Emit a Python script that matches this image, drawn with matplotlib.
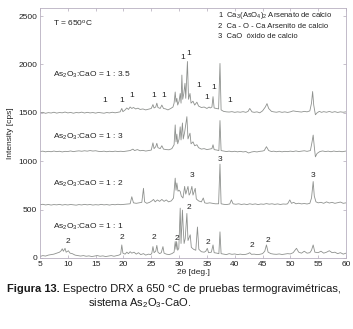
import matplotlib
matplotlib.use("Agg")
import matplotlib.pyplot as plt

plt.rcParams['font.family'] = ['Liberation Sans', 'DejaVu Sans']
plt.rcParams['mathtext.default'] = 'regular'

# (2theta, intensity); intensity includes the stacking offset
s35 = [(5, 1500), (5.5, 1505), (6, 1495), (6.5, 1502), (7, 1498), (7.5, 1506), (8, 1497),
       (8.5, 1503), (9, 1500), (9.5, 1508), (10, 1499), (10.5, 1504), (11, 1496), (11.5, 1503),
       (12, 1500), (12.5, 1507), (13, 1498), (13.5, 1505), (14, 1499), (14.5, 1503), (15, 1497),
       (15.5, 1504), (16, 1500), (16.5, 1496), (17, 1503), (17.5, 1499), (18, 1506), (18.5, 1500),
       (19, 1505), (19.4, 1510), (19.7, 1545), (19.9, 1512), (20.3, 1530), (20.6, 1550),
       (20.9, 1535), (21.2, 1560), (21.5, 1545), (21.8, 1555), (22.2, 1540), (22.6, 1548),
       (23, 1535), (23.5, 1540), (24, 1530), (24.5, 1538), (25, 1545), (25.3, 1585), (25.5, 1550),
       (25.8, 1560), (26.0, 1600), (26.2, 1555), (26.6, 1545), (26.9, 1580), (27.2, 1545),
       (27.6, 1540), (28, 1530), (28.5, 1545), (28.9, 1560), (29.1, 1600), (29.3, 1715),
       (29.45, 1610), (29.6, 1650), (29.75, 1580), (30.0, 1620), (30.2, 1700), (30.35, 1600),
       (30.5, 1890), (30.65, 1640), (30.85, 1700), (31.06, 1805), (31.2, 1650), (31.5, 2030),
       (31.7, 1640), (31.96, 1700), (32.15, 1600), (32.5, 1620), (32.8, 1580), (33.2, 1610),
       (33.5, 1570), (34, 1555), (34.5, 1560), (35, 1545), (35.4, 1560), (35.6, 1550), (35.9, 1560),
       (36.1, 1667), (36.3, 1550), (36.7, 1545), (37.1, 1540), (37.35, 2010), (37.55, 1530),
       (38, 1515), (38.5, 1510), (39, 1508), (39.5, 1512), (40, 1505), (40.5, 1510), (41, 1506),
       (41.5, 1512), (42, 1505), (42.4, 1515), (42.7, 1545), (43.1, 1510), (43.5, 1505), (44, 1510),
       (44.5, 1500), (45, 1520), (45.5, 1560), (45.8, 1595), (46.1, 1545), (46.6, 1515), (47, 1510),
       (47.5, 1506), (48, 1512), (48.5, 1505), (49, 1510), (49.5, 1504), (50, 1510), (50.5, 1520),
       (51, 1515), (51.5, 1512), (52, 1508), (52.5, 1515), (53, 1510), (53.5, 1520), (53.8, 1600),
       (54.0, 1720), (54.2, 1580), (54.5, 1480), (54.8, 1500), (55.2, 1515), (55.6, 1505),
       (56, 1512), (56.5, 1506), (57, 1514), (57.5, 1505), (58, 1512), (58.5, 1504), (59, 1510),
       (59.5, 1506), (60, 1510)]

s3 = [(5, 1100), (5.5, 1104), (6, 1097), (6.5, 1102), (7, 1098), (7.5, 1105), (8, 1099),
      (8.5, 1103), (9, 1096), (9.5, 1102), (10, 1100), (10.5, 1106), (11, 1099), (11.5, 1104),
      (12, 1107), (12.5, 1103), (13, 1108), (13.5, 1104), (14, 1110), (14.5, 1105), (15, 1108),
      (15.5, 1102), (16, 1100), (16.5, 1104), (17, 1098), (17.5, 1103), (18, 1099), (18.5, 1104),
      (19, 1100), (19.5, 1103), (20, 1100), (20.6, 1105), (21.2, 1110), (21.7, 1125), (22, 1110),
      (22.5, 1120), (23, 1108), (23.5, 1112), (24, 1105), (24.5, 1110), (25, 1115), (25.3, 1190),
      (25.5, 1130), (25.8, 1150), (26.0, 1185), (26.2, 1140), (26.6, 1130), (26.9, 1160),
      (27.2, 1125), (27.7, 1120), (28.2, 1118), (28.7, 1130), (29.1, 1170), (29.3, 1375),
      (29.45, 1200), (29.6, 1280), (29.75, 1180), (30.0, 1230), (30.2, 1355), (30.35, 1220),
      (30.6, 1395), (30.75, 1230), (31.0, 1300), (31.4, 1460), (31.6, 1230), (31.96, 1290),
      (32.15, 1180), (32.5, 1200), (32.8, 1160), (33.2, 1170), (33.5, 1140), (34, 1125),
      (34.5, 1130), (35, 1120), (35.5, 1125), (35.9, 1130), (36.1, 1170), (36.3, 1120),
      (36.8, 1115), (37.15, 1110), (37.35, 1420), (37.55, 1110), (38, 1105), (38.5, 1100),
      (39, 1104), (39.5, 1098), (40, 1103), (40.5, 1097), (41, 1102), (41.5, 1096), (42, 1100),
      (42.5, 1085), (43, 1095), (43.5, 1100), (44, 1096), (44.5, 1102), (45, 1105), (45.3, 1110),
      (45.7, 1150), (46.1, 1110), (46.6, 1100), (47, 1104), (47.5, 1098), (48, 1103), (48.5, 1097),
      (49, 1102), (49.5, 1099), (50, 1104), (50.5, 1100), (51, 1106), (51.5, 1100), (52, 1104),
      (52.5, 1108), (53, 1102), (53.6, 1110), (53.9, 1200), (54.1, 1270), (54.3, 1150),
      (54.5, 1045), (54.8, 1080), (55.3, 1100), (55.8, 1106), (56.3, 1100), (56.8, 1104),
      (57.3, 1098), (57.8, 1105), (58.3, 1100), (58.8, 1103), (59.3, 1098), (59.7, 1102), (60, 1105)]

s2 = [(5, 550), (5.5, 555), (6, 548), (6.5, 553), (7, 547), (7.5, 552), (8, 549), (8.5, 554),
      (9, 547), (9.5, 552), (10, 548), (10.5, 553), (11, 550), (11.5, 546), (12, 552), (12.5, 548),
      (13, 554), (13.5, 549), (14, 553), (14.5, 547), (15, 551), (15.5, 548), (16, 554), (16.5, 549),
      (17, 552), (17.5, 547), (18, 553), (18.5, 550), (19, 555), (19.5, 551), (20, 554), (20.6, 557),
      (21.2, 560), (21.5, 633), (21.8, 570), (22.3, 565), (22.8, 570), (23.3, 575), (23.6, 720),
      (23.8, 580), (24.2, 565), (24.7, 575), (25.1, 590), (25.4, 605), (25.7, 580), (26.1, 600),
      (26.5, 585), (26.9, 605), (27.3, 585), (27.7, 600), (28.1, 580), (28.6, 590), (29.0, 620),
      (29.3, 825), (29.45, 700), (29.6, 775), (29.8, 690), (30.0, 700), (30.2, 687), (30.4, 640),
      (30.7, 620), (31.0, 740), (31.2, 660), (31.6, 740), (31.8, 650), (32.0, 670), (32.3, 740),
      (32.5, 650), (32.9, 720), (33.1, 610), (33.5, 590), (34.0, 580), (34.35, 620), (34.6, 570),
      (35, 565), (35.5, 570), (36, 565), (36.5, 560), (37.1, 560), (37.35, 970), (37.55, 560),
      (38, 555), (38.5, 552), (39.1, 558), (39.4, 600), (39.7, 560), (40.2, 555), (40.7, 560),
      (41.2, 553), (41.7, 558), (42.2, 552), (42.7, 560), (43.2, 554), (43.7, 559), (44.2, 552),
      (44.7, 558), (45.2, 555), (45.7, 562), (46.2, 556), (46.7, 560), (47.2, 554), (47.7, 559),
      (48.2, 553), (48.7, 558), (49.2, 556), (49.5, 560), (49.9, 600), (50.2, 565), (50.6, 575),
      (51, 560), (51.5, 566), (52, 559), (52.5, 563), (53, 558), (53.5, 565), (53.8, 620),
      (54.1, 790), (54.3, 640), (54.6, 580), (55, 570), (55.5, 575), (56, 565), (56.5, 580),
      (57, 568), (57.5, 575), (58, 565), (58.5, 572), (59, 578), (59.5, 565), (60, 570)]

s1 = [(5, 15), (5.5, 25), (6, 20), (6.5, 30), (7, 35), (7.5, 40), (8, 50), (8.5, 60), (8.8, 75),
      (9.0, 95), (9.2, 70), (9.5, 100), (9.7, 60), (10.1, 75), (10.4, 50), (10.8, 45), (11.3, 30),
      (11.8, 25), (12.3, 20), (12.8, 25), (13.3, 18), (13.8, 22), (14.3, 15), (14.8, 20),
      (15.3, 25), (15.8, 18), (16.3, 22), (16.8, 15), (17.3, 20), (17.8, 25), (18.3, 18),
      (18.8, 25), (19.2, 30), (19.5, 40), (19.7, 135), (19.9, 50), (20.3, 40), (20.6, 60),
      (20.9, 45), (21.2, 65), (21.5, 50), (21.9, 60), (22.3, 40), (22.7, 55), (23.1, 35),
      (23.6, 45), (24.0, 30), (24.5, 40), (24.9, 35), (25.1, 50), (25.3, 118), (25.5, 55),
      (25.8, 70), (26.0, 130), (26.2, 60), (26.5, 45), (26.8, 55), (27.1, 118), (27.3, 50),
      (27.7, 40), (28.2, 35), (28.7, 45), (29.1, 60), (29.3, 170), (29.45, 90), (29.55, 170),
      (29.75, 80), (29.95, 100), (30.2, 515), (30.35, 150), (30.6, 495), (30.76, 290), (30.9, 150),
      (31.1, 200), (31.4, 460), (31.6, 180), (32.0, 240), (32.2, 110), (32.6, 90), (33.0, 80),
      (33.3, 320), (33.55, 90), (34, 65), (34.5, 60), (34.8, 70), (35.07, 100), (35.3, 55),
      (35.8, 60), (36.1, 135), (36.3, 55), (36.8, 50), (37.15, 45), (37.35, 270), (37.55, 45),
      (38, 40), (38.5, 35), (39, 45), (39.5, 38), (40, 42), (40.5, 35), (41, 40), (41.5, 35),
      (42, 38), (42.4, 45), (42.7, 55), (43, 38), (43.5, 40), (44, 35), (44.5, 38), (45, 45),
      (45.4, 70), (45.7, 135), (46, 60), (46.5, 45), (47, 40), (47.5, 38), (48, 42), (48.5, 36),
      (49, 40), (49.5, 45), (50, 42), (50.5, 55), (51.1, 100), (51.5, 60), (52, 50), (52.5, 70),
      (53, 50), (53.5, 55), (53.8, 80), (54.1, 135), (54.4, 60), (55, 55), (55.5, 70), (56, 50),
      (56.5, 60), (57, 75), (57.5, 55), (58, 60), (58.5, 45), (59, 55), (59.5, 40), (60, 50)]

ratio_labels = ["1 : 3.5", "1 : 3", "1 : 2", "1 : 1"]
ratio_label_y = [1890, 1250, 770, 325]

# phase markers above the peaks
mark_x = [16.7, 19.7, 21.5, 25.5, 27.2, 30.6, 31.7, 33.5, 35.0, 36.3, 39.1,
          32.3, 37.3, 54.1,
          10.1, 19.8, 25.4, 29.55, 31.7, 35.1, 43.0, 46.0]
mark_y = [1630, 1630, 1675, 1675, 1675, 2075, 2115, 1785, 1655, 1765, 1630,
          857, 1015, 857,
          170, 210, 210, 200, 525, 160, 125, 185]
mark_txt = ["1"] * 11 + ["3"] * 3 + ["2"] * 8

legend_lines = ["1  Ca$_3$(AsO$_4$)$_2$ Arsenato de calcio",
                "2  Ca - O - Ca Arsenito de calcio",
                "3  CaO  óxido de calcio"]
legend_y = [2510, 2390, 2290]

fig = plt.figure(figsize=(3.53, 3.29), dpi=100)
ax = fig.add_axes([40 / 353, 1 - 258 / 329, 306 / 353, 250 / 329])

line_col = "#8e918e"
for s in [s35, s3, s2, s1]:
    xs, ys = zip(*s)
    ax.plot(xs, ys, color=line_col, lw=0.6)

ax.set_xlim(5, 60)
ax.set_ylim(0, 2583)
ax.set_xticks(range(5, 61, 5))
ax.set_yticks(range(0, 2501, 500))
ax.tick_params(direction="in", length=2, width=0.5, top=True, right=True,
               labelsize=6, colors="#b0a8b8", labelcolor="#222222", pad=2)
for sp in ax.spines.values():
    sp.set_color("#b8b0c0")
    sp.set_linewidth(0.6)

ax.set_xlabel("2θ [deg.]", fontsize=6, labelpad=1, color="#222222")
ax.set_ylabel("Intensity [cps]", fontsize=6, labelpad=3, color="#222222")

ax.text(7.4, 2425, "T = 650$^{o}$C", fontsize=6, va="center", color="#222222")
for lab, yy in zip(ratio_labels, ratio_label_y):
    ax.text(7.4, yy, "As$_2$O$_3$:CaO = " + lab, fontsize=6, va="center", color="#222222")

for xx, yy, t in zip(mark_x, mark_y, mark_txt):
    ax.text(xx, yy, t, fontsize=6, ha="center", va="center", color="#222222")

for t, yy in zip(legend_lines, legend_y):
    ax.text(37.0, yy, t, fontsize=5.5, va="center", color="#222222")

# caption below the chart
cap_font = ['Liberation Sans Narrow', 'Liberation Sans', 'DejaVu Sans']
fig.canvas.draw()
r = fig.canvas.get_renderer()
t1 = fig.text(7 / 353, 1 - 289 / 329, "Figura 13.", fontsize=8, fontweight="bold",
              family=cap_font, va="center", color="#1a1a1a")
bb = t1.get_window_extent(renderer=r)
fig.text((bb.x1 + 3) / 353, 1 - 289 / 329,
         "Espectro DRX a 650 °C de pruebas termogravimétricas,",
         fontsize=8, family=cap_font, va="center", color="#1a1a1a")
fig.text(88 / 353, 1 - 303 / 329, "sistema As$_2$O$_3$-CaO.", fontsize=8,
         family=cap_font, va="center", color="#1a1a1a")

fig.savefig("out.png", dpi=100)
